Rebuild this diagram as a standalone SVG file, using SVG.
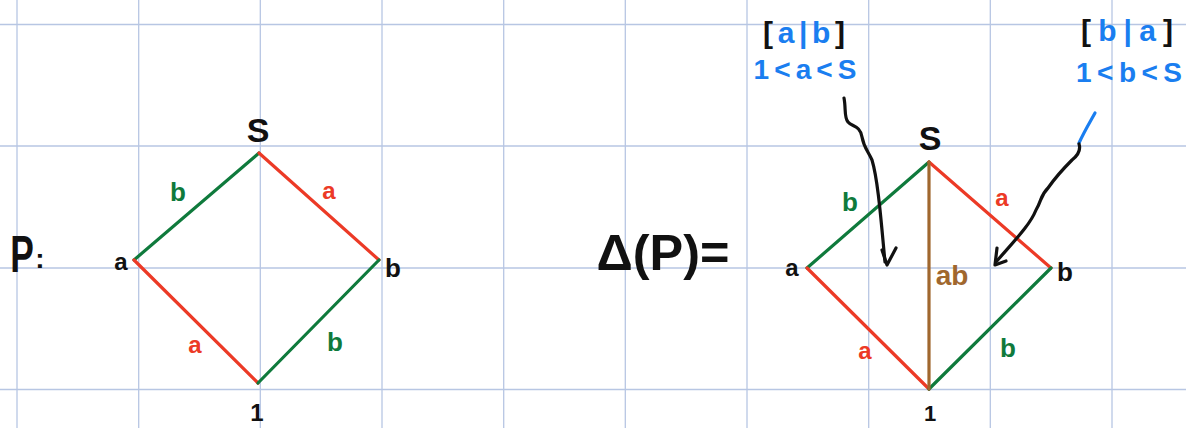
<svg xmlns="http://www.w3.org/2000/svg" width="1186" height="428" viewBox="0 0 1186 428">
<style>
.grid line{stroke:#b7c6e3;stroke-width:1.3}
.e{stroke-width:3.2;stroke-linecap:round;fill:none}
.g{stroke:#0f7a3c}.r{stroke:#ec3a26}.br{stroke:#a0672e}
.t{font-family:"Liberation Sans","DejaVu Sans",sans-serif;font-weight:bold;text-anchor:middle}
.k{fill:#111}.tg{fill:#0f7a3c}.tr{fill:#ec3a26}.tb{fill:#1a7ef0}.tbr{fill:#a0672e}
.arr{stroke:#111;stroke-width:3.2;fill:none;stroke-linecap:round;stroke-linejoin:round}
</style>
<rect width="1186" height="428" fill="#ffffff"/>
<g class="grid">
<line x1="17" y1="0" x2="17" y2="428"/>
<line x1="138.7" y1="0" x2="138.7" y2="428"/>
<line x1="260.3" y1="0" x2="260.3" y2="428"/>
<line x1="382" y1="0" x2="382" y2="428"/>
<line x1="503.7" y1="0" x2="503.7" y2="428"/>
<line x1="625.3" y1="0" x2="625.3" y2="428"/>
<line x1="747" y1="0" x2="747" y2="428"/>
<line x1="868.7" y1="0" x2="868.7" y2="428"/>
<line x1="990.3" y1="0" x2="990.3" y2="428"/>
<line x1="1112" y1="0" x2="1112" y2="428"/>
<line x1="0" y1="24.5" x2="1186" y2="24.5"/>
<line x1="0" y1="146" x2="1186" y2="146"/>
<line x1="0" y1="268" x2="1186" y2="268"/>
<line x1="0" y1="389.5" x2="1186" y2="389.5"/>
</g>

<g id="label-P">
<text class="t k" x="22" y="272" font-size="52" font-weight="normal" transform="matrix(0.68 0 0 1 7.04 0)">P</text>
<text class="t k" x="40" y="268" font-size="28">:</text>
</g>
<g id="label-DeltaP">
<text class="t k" x="663" y="270" font-size="50" font-weight="normal" textLength="133" lengthAdjust="spacingAndGlyphs">Δ(P)=</text>
</g>

<g id="connectors">
<path class="e g" d="M259,153 L134,260"/>
<path class="e r" d="M259,153 L379,260"/>
<path class="e r" d="M134,260 L258,383"/>
<path class="e g" d="M258,383 L379,260"/>
<path class="e g" d="M929,162 L807,268"/>
<path class="e r" d="M929,162 L1051,268"/>
<path class="e r" d="M807,268 L929,389"/>
<path class="e g" d="M929,389 L1051,268"/>
<path class="e br" d="M929,162 L929,389"/>
<path class="arr" d="M844,98 C846,108 844,118 848,122 C852,127 860,125 862,137 C864,148 868,151 872,160 C878,180 881,220 885,262"/>
<path class="arr" d="M882,250 L887,265 L896,248"/>
<path d="M1095,113 C1090,122 1084,132 1079,143" stroke="#1a7ef0" stroke-width="3.2" fill="none" stroke-linecap="round"/>
<path class="arr" d="M1079,144 C1081,150 1077,156 1072,160 C1062,170 1055,178 1048,188 C1040,196 1042,200 1036,210 C1030,225 1015,240 996,262"/>
<path class="arr" d="M997,248 L995,265 L1006,261"/>
</g>

<g id="node-left-S"><text class="t k" x="258" y="142" font-size="34" font-weight="normal">S</text></g>
<g id="node-left-1"><text class="t k" x="257" y="421" font-size="24">1</text></g>
<g id="node-left-a"><text class="t k" x="121" y="270" font-size="24">a</text></g>
<g id="node-left-b"><text class="t k" x="393" y="277" font-size="26">b</text></g>
<g id="edge-labels-left">
<text class="t tg" x="178" y="201" font-size="26">b</text>
<text class="t tr" x="329" y="199" font-size="24">a</text>
<text class="t tr" x="195" y="353" font-size="24">a</text>
<text class="t tg" x="335" y="351" font-size="26">b</text>
</g>

<g id="node-right-S"><text class="t k" x="930" y="150" font-size="34" font-weight="normal">S</text></g>
<g id="node-right-1"><text class="t k" x="930" y="421" font-size="22">1</text></g>
<g id="node-right-a"><text class="t k" x="792" y="276" font-size="24">a</text></g>
<g id="node-right-b"><text class="t k" x="1065" y="281" font-size="26">b</text></g>
<g id="edge-labels-right">
<text class="t tg" x="850" y="211" font-size="26">b</text>
<text class="t tr" x="1002" y="206" font-size="24">a</text>
<text class="t tr" x="865" y="359" font-size="24">a</text>
<text class="t tg" x="1008" y="357" font-size="26">b</text>
<text class="t tbr" x="952" y="285" font-size="28">ab</text>
</g>

<g id="note-left">
<text class="t" x="804" y="43" font-size="30" textLength="82" lengthAdjust="spacing"><tspan class="k">[</tspan><tspan class="tb">a|b</tspan><tspan class="k">]</tspan></text>
<text class="t tb" x="805" y="79" font-size="28" textLength="103" lengthAdjust="spacing">1&lt;a&lt;S</text>
</g>
<g id="note-right">
<text class="t" x="1127" y="41" font-size="30" textLength="92" lengthAdjust="spacing"><tspan class="k">[</tspan><tspan class="tb">b|a</tspan><tspan class="k">]</tspan></text>
<text class="t tb" x="1129" y="82" font-size="28" textLength="106" lengthAdjust="spacing">1&lt;b&lt;S</text>
</g>
</svg>
